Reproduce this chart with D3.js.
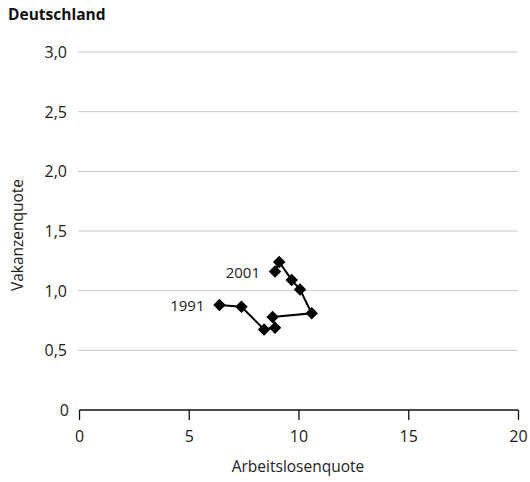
<!DOCTYPE html>
<html><head><meta charset="utf-8">
<script src="https://cdn.jsdelivr.net/npm/d3@7"></script>
<style>body{margin:0;background:#fff}svg{display:block;font-family:"Open Sans",sans-serif}</style>
</head><body>
<script>
const years = [1991,1992,1993,1994,1995,1996,1997,1998,1999,2001];
const unemployment = [6.4,7.4,8.43,8.93,8.82,10.6,10.07,9.69,9.12,8.93];
const vacancies = [0.88,0.865,0.675,0.69,0.78,0.81,1.01,1.09,1.24,1.16];
const xTicks = [0,5,10,15,20];
const yTicks = [0,0.5,1.0,1.5,2.0,2.5,3.0];
const pointLabels = [{i:0,text:"1991"},{i:9,text:"2001"}];

const W=530,H=482;
const svg=d3.select("body").append("svg").attr("width",W).attr("height",H);
const x=d3.scaleLinear().domain([0,20]).range([79,518]);
const y=d3.scaleLinear().domain([0,3]).range([410,52]);
const fmt=v=>v===0?"0":d3.format(".1f")(v).replace(".",",");

svg.append("text").attr("x",8).attr("y",20).attr("font-weight","bold").attr("font-size",15.5).attr("fill","#111").text("Deutschland");

// grid
svg.append("g").selectAll("line").data(yTicks.filter(d=>d>0)).join("line")
 .attr("x1",78).attr("x2",518).attr("y1",d=>y(d)).attr("y2",d=>y(d))
 .attr("stroke","#c8c8c8").attr("stroke-width",1);
svg.append("g").selectAll("text").data(yTicks).join("text")
 .attr("x",d=>d===0?69:67).attr("y",d=>y(d)+6).attr("text-anchor","end")
 .attr("font-size",16).attr("fill","#222").text(fmt);

// x axis
const xa=svg.append("g").attr("transform","translate(0,410)")
 .call(d3.axisBottom(x).tickValues(xTicks).tickSize(10).tickPadding(11).tickFormat(d=>d));
xa.select(".domain").attr("stroke","#111").attr("stroke-width",1.3).attr("d","M79.5,0H518");
xa.selectAll(".tick line").attr("stroke","#111").attr("stroke-width",1.3);
xa.selectAll(".tick text").attr("font-size",16).attr("fill","#222").attr("font-family","'Open Sans',sans-serif");

svg.append("text").attr("x",298).attr("y",472).attr("text-anchor","middle").attr("font-size",15.5).attr("fill","#222").text("Arbeitslosenquote");
svg.append("text").attr("transform","translate(23,235) rotate(-90)").attr("text-anchor","middle").attr("font-size",15.5).attr("fill","#222").text("Vakanzenquote");

const data=years.map((yr,i)=>({yr,u:unemployment[i],v:vacancies[i]}));
svg.append("path").datum(data).attr("fill","none").attr("stroke","#000").attr("stroke-width",2)
 .attr("d",d3.line().x(d=>x(d.u)).y(d=>y(d.v)));
const sym=d3.symbol().type(d3.symbolSquare).size(78);
svg.append("g").selectAll("path").data(data).join("path")
 .attr("d",sym).attr("fill","#000")
 .attr("transform",d=>`translate(${x(d.u)},${y(d.v)}) rotate(45)`);

svg.append("g").selectAll("text").data(pointLabels).join("text")
 .attr("x",d=>x(data[d.i].u)-15).attr("y",d=>y(data[d.i].v)+6)
 .attr("text-anchor","end").attr("font-size",15).attr("fill","#222").text(d=>d.text);
</script>
</body></html>
